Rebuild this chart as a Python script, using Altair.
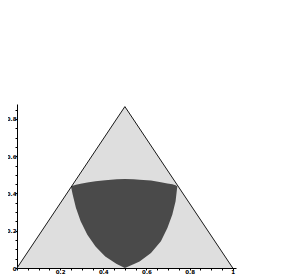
import altair as alt
import pandas as pd

# Outer triangle (vertices)
tri_x = [0.0, 0.5, 1.0]
tri_y = [0.0, 0.866, 0.0]

# Dark point-cloud region (lower and upper boundary at each x)
region_x = [0.25, 0.258, 0.273, 0.295, 0.326, 0.364, 0.409, 0.462, 0.5,
            0.54, 0.568, 0.621, 0.667, 0.697, 0.72, 0.735, 0.743]
region_lower = [0.439, 0.394, 0.323, 0.251, 0.179, 0.116, 0.062, 0.022, 0.0,
                0.02, 0.035, 0.081, 0.143, 0.215, 0.287, 0.358, 0.439]
region_upper = [0.439, 0.442, 0.447, 0.452, 0.459, 0.466, 0.471, 0.476, 0.478,
                0.476, 0.474, 0.470, 0.460, 0.454, 0.449, 0.444, 0.439]

# Axis ticks
x_major = [0.2, 0.4, 0.6, 0.8, 1.0]
y_major = [0.0, 0.2, 0.4, 0.6, 0.8]
x_minor = [0.0, 0.05, 0.1, 0.15, 0.2, 0.25, 0.3, 0.35, 0.4, 0.45, 0.5,
           0.55, 0.6, 0.65, 0.7, 0.75, 0.8, 0.85, 0.9, 0.95, 1.0]
y_minor = [0.0, 0.05, 0.1, 0.15, 0.2, 0.25, 0.3, 0.35, 0.4, 0.45, 0.5,
           0.55, 0.6, 0.65, 0.7, 0.75, 0.8, 0.85]

tri = pd.DataFrame({"x": tri_x, "y": tri_y})
region = pd.DataFrame({"x": region_x, "lo": region_lower, "hi": region_upper})

xs = alt.Scale(domain=[0, 1.015], nice=False, zero=False)
ys = alt.Scale(domain=[0, 0.88], nice=False, zero=False)

lab = dict(labelFont="DejaVu Sans", labelFontWeight="bold", labelFontSize=5.5,
           labelColor="black", grid=False, title=None, format="~g")

fill = alt.Chart(tri).mark_area(color="#dedede", opacity=1).encode(
    x=alt.X("x:Q", scale=xs, axis=alt.Axis(values=x_major, ticks=False, labelPadding=1,
                                            domain=False, orient="bottom", **lab)),
    y=alt.Y("y:Q", scale=ys, axis=alt.Axis(values=y_major, ticks=False, labelPadding=1,
                                            domain=False, orient="left", **lab)),
)

dark = alt.Chart(region).mark_area(color="#4a4a4a", opacity=1).encode(
    x=alt.X("x:Q", scale=xs, axis=None),
    y=alt.Y("lo:Q", scale=ys, axis=None),
    y2="hi:Q",
)

outline = alt.Chart(tri).mark_line(color="black", strokeWidth=0.9).encode(
    x=alt.X("x:Q", scale=xs, axis=alt.Axis(values=x_minor, labels=False, ticks=True, tickSize=2,
                                            tickColor="black", domain=True, domainColor="black",
                                            domainWidth=1, grid=False, title=None, orient="bottom")),
    y=alt.Y("y:Q", scale=ys, axis=alt.Axis(values=y_minor, labels=False, ticks=True, tickSize=2,
                                            tickColor="black", domain=True, domainColor="black",
                                            domainWidth=1, grid=False, title=None, orient="left")),
    order=alt.Order("x:Q"),
)

chart = alt.layer(fill, dark, outline).resolve_axis(x="independent", y="independent").properties(
    width=219, height=164,
    autosize=alt.AutoSizeParams(type="none"),
    padding={"left": 9, "top": 96, "right": 20, "bottom": 9},
).configure(background="white", view=alt.ViewConfig(stroke=None))

chart.save("out.html", embed_options={"renderer": "svg", "actions": False})
